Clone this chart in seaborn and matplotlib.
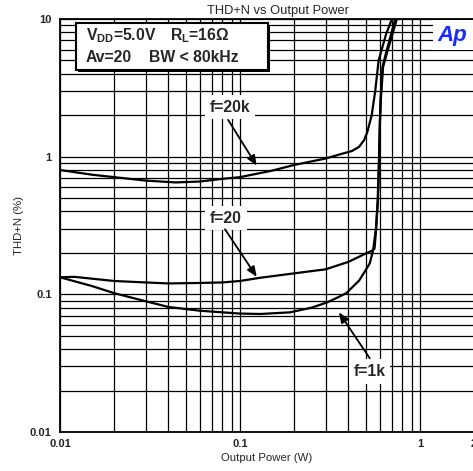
import numpy as np
import pandas as pd
import matplotlib
matplotlib.use("Agg")
import matplotlib.pyplot as plt
from matplotlib.patches import Rectangle
from matplotlib.ticker import FixedLocator, FixedFormatter, LogLocator, NullFormatter
import seaborn as sns

# ---------------- data ----------------
p_20k = [0.01, 0.015, 0.02, 0.03, 0.044, 0.06, 0.08, 0.1, 0.15, 0.2, 0.3, 0.36,
         0.42, 0.46, 0.49, 0.51, 0.54, 0.565, 0.59, 0.65, 0.70]
thd_20k = [0.80, 0.74, 0.71, 0.67, 0.65, 0.66, 0.69, 0.71, 0.79, 0.87, 0.97, 1.04,
           1.10, 1.18, 1.32, 1.50, 2.0, 3.0, 5.0, 7.8, 10.0]

p_20 = [0.01, 0.012, 0.015, 0.02, 0.03, 0.04, 0.06, 0.08, 0.1, 0.13, 0.2, 0.3,
        0.4, 0.45, 0.5, 0.54, 0.56, 0.572, 0.585, 0.595, 0.60, 0.605, 0.62, 0.656, 0.73]
thd_20 = [0.133, 0.134, 0.130, 0.125, 0.122, 0.120, 0.121, 0.122, 0.125, 0.132, 0.142, 0.152,
          0.172, 0.185, 0.198, 0.207, 0.215, 0.30, 0.48, 1.0, 1.8, 2.6, 4.5, 6.0, 10.0]

p_1k = [0.01, 0.015, 0.02, 0.03, 0.04, 0.06, 0.08, 0.1, 0.13, 0.19, 0.25, 0.306,
        0.35, 0.39, 0.46, 0.5, 0.527, 0.55, 0.57, 0.583, 0.593, 0.60, 0.607, 0.625, 0.665, 0.745]
thd_1k = [0.133, 0.115, 0.102, 0.089, 0.081, 0.076, 0.074, 0.0725, 0.072, 0.074, 0.080, 0.0875,
          0.095, 0.102, 0.126, 0.150, 0.168, 0.21, 0.30, 0.48, 1.0, 1.8, 2.6, 4.5, 6.0, 10.0]

x_ticks = [0.01, 0.1, 1, 2]
x_tick_labels = ["0.01", "0.1", "1", "2"]
y_ticks = [0.01, 0.1, 1, 10]
y_tick_labels = ["0.01", "0.1", "1", "10"]

title = "THD+N vs Output Power"
x_label = "Output Power (W)"
y_label = "THD+N (%)"

df = pd.concat([
    pd.DataFrame({"power": p_20k, "thd": thd_20k, "curve": "f=20k"}),
    pd.DataFrame({"power": p_20, "thd": thd_20, "curve": "f=20"}),
    pd.DataFrame({"power": p_1k, "thd": thd_1k, "curve": "f=1k"}),
], ignore_index=True)

# ---------------- style ----------------
sns.set_style("white")
plt.rcParams["font.family"] = ["Liberation Sans", "DejaVu Sans"]
plt.rcParams["mathtext.fontset"] = "custom"
plt.rcParams["mathtext.rm"] = "Liberation Sans"
plt.rcParams["mathtext.bf"] = "Liberation Sans:bold"
plt.rcParams["mathtext.it"] = "Liberation Sans:italic"

W, H = 473, 471
fig = plt.figure(figsize=(W / 100, H / 100), dpi=100)
ax = fig.add_axes([60 / W, (H - 432) / H, (474 - 60) / W, (432 - 19) / H])

sns.lineplot(data=df, x="power", y="thd", hue="curve",
             palette={"f=20k": "black", "f=20": "black", "f=1k": "black"},
             sort=False, estimator=None, legend=False, linewidth=1.6, ax=ax, zorder=3)

ax.set_xscale("log")
ax.set_yscale("log")
ax.set_xlim(0.01, 2)
ax.set_ylim(0.01, 10)

ax.xaxis.set_major_locator(FixedLocator(x_ticks))
ax.xaxis.set_major_formatter(FixedFormatter(x_tick_labels))
ax.yaxis.set_major_locator(FixedLocator(y_ticks))
ax.yaxis.set_major_formatter(FixedFormatter(y_tick_labels))
ax.xaxis.set_minor_locator(LogLocator(base=10, subs=np.arange(2, 10), numticks=20))
ax.yaxis.set_minor_locator(LogLocator(base=10, subs=np.arange(2, 10), numticks=20))
ax.xaxis.set_minor_formatter(NullFormatter())
ax.yaxis.set_minor_formatter(NullFormatter())

ax.grid(which="both", color="black", linewidth=0.9)
ax.set_axisbelow(True)
ax.tick_params(which="both", length=0)
ax.tick_params(axis="x", pad=5, labelsize=8)
ax.tick_params(axis="y", pad=6, labelsize=8)
for lab in ax.get_xticklabels() + ax.get_yticklabels():
    lab.set_fontweight("bold")
for s in ax.spines.values():
    s.set_color("black")
    s.set_linewidth(1.3)

ax.set_xlabel(x_label, fontsize=8.2, labelpad=3)
ax.set_ylabel(y_label, fontsize=8.2, labelpad=4)
fig.text(278 / W, 1 - 11 / H, title, fontsize=9.3, ha="center", va="center")

# ---------------- info box top-left ----------------
def fx(px):
    return px / W

def fy(py):
    return 1 - py / H

shadow = Rectangle((fx(78), fy(72)), fx(268) - fx(76), fy(23) - fy(70),
                   transform=fig.transFigure, facecolor="black", edgecolor="none", zorder=5)
box = Rectangle((fx(76), fy(70)), fx(268) - fx(76), fy(23) - fy(70),
                transform=fig.transFigure, facecolor="white", edgecolor="black",
                linewidth=1.5, zorder=6)
fig.patches.extend([shadow, box])
fs_box = 11.3
fig.text(fx(86), fy(36), r"V$_\mathbf{DD}$=5.0V", fontsize=fs_box, fontweight="bold",
         va="center", ha="left", zorder=7)
fig.text(fx(170), fy(36), r"R$_\mathbf{L}$=16Ω", fontsize=fs_box, fontweight="bold",
         va="center", ha="left", zorder=7)
fig.text(fx(86), fy(57), "Av=20", fontsize=fs_box, fontweight="bold",
         va="center", ha="left", zorder=7)
fig.text(fx(149), fy(57), "BW < 80kHz", fontsize=fs_box, fontweight="bold",
         va="center", ha="left", zorder=7)

# logo
logo_bg = Rectangle((fx(433), fy(50)), fx(474) - fx(433), fy(20) - fy(50),
                    transform=fig.transFigure, facecolor="white", edgecolor="none", zorder=5)
fig.patches.append(logo_bg)
fig.text(fx(437), fy(36), "Ap", fontsize=16, fontweight="bold", style="italic",
         color="#1a2cff", va="center", ha="left", zorder=7)

# ---------------- curve labels with arrows ----------------
labels = [
    ("f=20k", (0.088, 2.29), (0.086, 1.85), (0.124, 0.86)),
    ("f=20", (0.0836, 0.357), (0.0826, 0.297), (0.124, 0.134)),
    ("f=1k", (0.524, 0.0275), (0.527, 0.0343), (0.355, 0.074)),
]
for txt, tpos, start, tip in labels:
    ax.text(tpos[0], tpos[1], txt, fontsize=11.3, fontweight="bold", ha="center", va="center",
            zorder=6, bbox=dict(boxstyle="square,pad=0.3", facecolor="white", edgecolor="none"))
    ax.annotate("", xy=tip, xytext=start,
                arrowprops=dict(arrowstyle="-|>,head_length=0.6,head_width=0.25",
                                color="black", lw=1.3, shrinkA=0, shrinkB=0),
                zorder=6)

fig.savefig("out.png", dpi=100)
